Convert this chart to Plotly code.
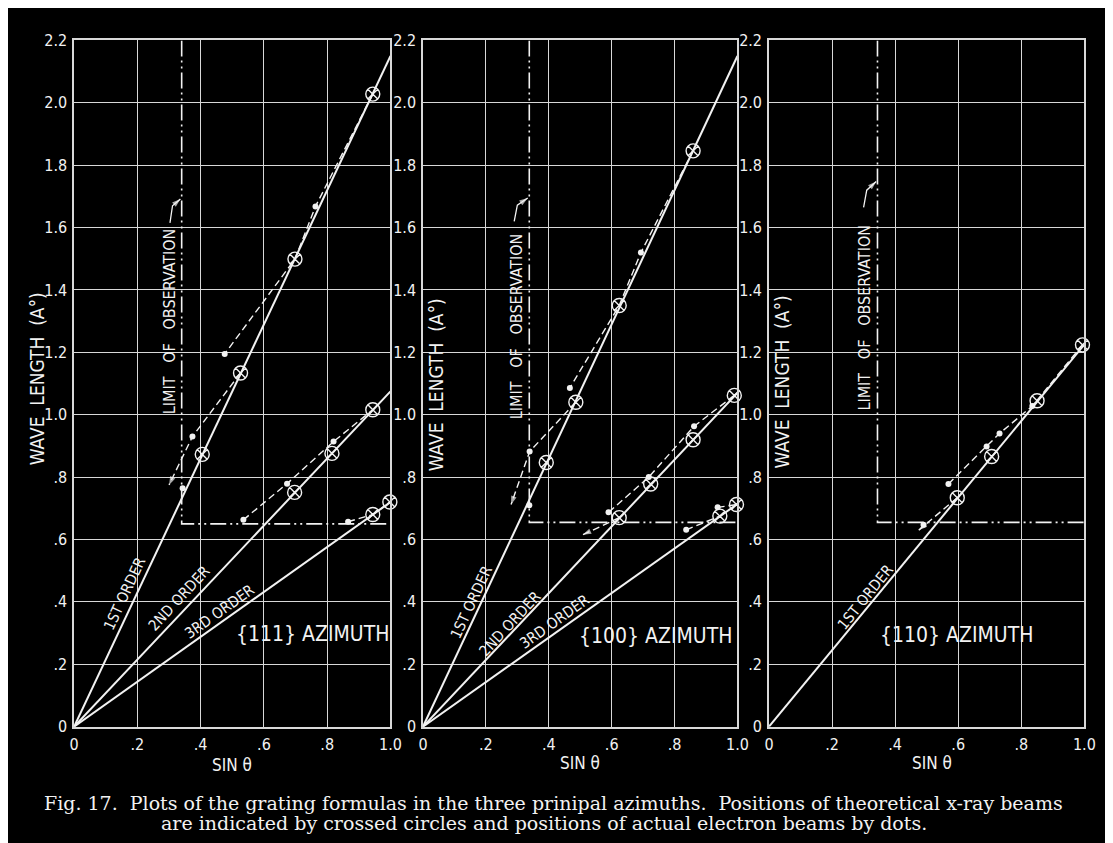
import plotly.graph_objects as go

W, H = 1113, 843
OFF = 8  # default page margin of the html body

# ---------------- tick labels ----------------
x_tickvals = [0, 0.2, 0.4, 0.6, 0.8, 1.0]
x_ticktext = ["0", ".2", ".4", ".6", ".8", "1.0"]
y_tickvals = [0, 0.2, 0.4, 0.6, 0.8, 1.0, 1.2, 1.4, 1.6, 1.8, 2.0, 2.2]
y_ticktext = ["0", ".2", ".4", ".6", ".8", "1.0", "1.2", "1.4", "1.6", "1.8", "2.0", "2.2"]

# ---------------- panel 1 : {111} azimuth ----------------
p1_order1_x = [0, 1.0]; p1_order1_y = [0, 2.15]
p1_order2_x = [0, 1.0]; p1_order2_y = [0, 1.075]
p1_order3_x = [0, 1.0]; p1_order3_y = [0, 0.72]
p1_circ_x = [0.944, 0.698, 0.526, 0.405, 0.944, 0.815, 0.697, 0.944, 0.998]
p1_circ_y = [2.028, 1.499, 1.134, 0.873, 1.016, 0.876, 0.751, 0.680, 0.720]
p1_dot_x = [0.763, 0.476, 0.374, 0.343, 0.820, 0.673, 0.535, 0.866]
p1_dot_y = [1.668, 1.195, 0.930, 0.764, 0.914, 0.779, 0.663, 0.657]
p1_dash_a_x = [0.944, 0.763, 0.698, 0.476]; p1_dash_a_y = [2.028, 1.668, 1.499, 1.195]
p1_dash_b_x = [0.526, 0.374, 0.300]; p1_dash_b_y = [1.134, 0.930, 0.775]
p1_dash_c_x = [0.535, 0.673, 0.820, 0.944]; p1_dash_c_y = [0.663, 0.779, 0.914, 1.016]
p1_dash_d_x = [0.866, 0.944, 0.998]; p1_dash_d_y = [0.657, 0.680, 0.720]
p1_limit_x = [0.340, 0.340, 1.0]; p1_limit_y = [2.2, 0.650, 0.650]
p1_limarrow_x = [0.303, 0.311, 0.336]; p1_limarrow_y = [1.615, 1.670, 1.692]

# ---------------- panel 2 : {100} azimuth ----------------
p2_order1_x = [0, 1.0]; p2_order1_y = [0, 2.15]
p2_order2_x = [0, 1.0]; p2_order2_y = [0, 1.07]
p2_order3_x = [0, 1.0]; p2_order3_y = [0, 0.714]
p2_circ_x = [0.859, 0.624, 0.486, 0.392, 0.990, 0.859, 0.724, 0.624, 0.997, 0.944]
p2_circ_y = [1.846, 1.350, 1.040, 0.847, 1.062, 0.920, 0.778, 0.670, 0.712, 0.675]
p2_dot_x = [0.693, 0.467, 0.339, 0.338, 0.862, 0.718, 0.590, 0.937, 0.837]
p2_dot_y = [1.520, 1.086, 0.882, 0.710, 0.963, 0.800, 0.687, 0.703, 0.631]
p2_dash_a_x = [0.859, 0.693, 0.624, 0.467]; p2_dash_a_y = [1.846, 1.520, 1.350, 1.086]
p2_dash_b_x = [0.486, 0.339, 0.280]; p2_dash_b_y = [1.040, 0.882, 0.712]
p2_dash_c_x = [0.990, 0.862, 0.718, 0.590]; p2_dash_c_y = [1.062, 0.963, 0.800, 0.687]
p2_dash_d_x = [0.624, 0.508]; p2_dash_d_y = [0.670, 0.615]
p2_dash_e_x = [0.837, 0.944]; p2_dash_e_y = [0.631, 0.675]
p2_dash_f_x = [0.937, 0.997]; p2_dash_f_y = [0.703, 0.712]
p2_limit_x = [0.338, 0.338, 1.0]; p2_limit_y = [2.2, 0.655, 0.655]
p2_limarrow_x = [0.290, 0.300, 0.333]; p2_limarrow_y = [1.620, 1.672, 1.695]

# ---------------- panel 3 : {110} azimuth ----------------
p3_order1_x = [0, 1.0]; p3_order1_y = [0, 1.225]
p3_circ_x = [0.994, 0.850, 0.706, 0.597]
p3_circ_y = [1.224, 1.045, 0.866, 0.734]
p3_dot_x = [0.569, 0.690, 0.731, 0.835, 0.490]
p3_dot_y = [0.778, 0.898, 0.940, 1.028, 0.647]
p3_dash_a_x = [0.569, 0.690, 0.731, 0.835, 0.994]; p3_dash_a_y = [0.778, 0.898, 0.940, 1.028, 1.224]
p3_dash_b_x = [0.597, 0.475]; p3_dash_b_y = [0.734, 0.630]
p3_limit_x = [0.344, 0.344, 1.0]; p3_limit_y = [2.2, 0.655, 0.655]
p3_limarrow_x = [0.300, 0.310, 0.340]; p3_limarrow_y = [1.665, 1.720, 1.748]

# ---------------- text ----------------
order_labels = ["1ST ORDER", "2ND ORDER", "3RD ORDER"]
azimuth_labels = ["{111} AZIMUTH", "{100} AZIMUTH", "{110} AZIMUTH"]
y_title = "WAVE  LENGTH  (A°)"
x_title = "SIN θ"
limit_label = "LIMIT   OF   OBSERVATION"
caption_1 = ("Fig. 17.  Plots of the grating formulas in the three prinipal azimuths.  "
             "Positions of theoretical x-ray beams")
caption_2 = "are indicated by crossed circles and positions of actual electron beams by dots."

# ---------------- style ----------------
LET = "DejaVu Sans Condensed, Liberation Sans Narrow, DejaVu Sans, sans-serif"
SERIF = "DejaVu Serif, Liberation Serif, serif"
WHITE = "#f2f2f2"
GRID = "#d8d8d8"


def xd(px):
    return (px - OFF) / W


def yd(px):
    return 1 - (px - OFF) / H


fig = go.Figure()

panel_x_px = [(70, 391), (424, 743), (775, 1095)]
y_px = (734, 32)

axes = [("x", "y"), ("x2", "y2"), ("x3", "y3")]


def add_line(ax, xs, ys, width=2.0, dash="solid", color=WHITE):
    fig.add_trace(go.Scatter(x=xs, y=ys, mode="lines", xaxis=ax[0], yaxis=ax[1],
                             line=dict(color=color, width=width, dash=dash),
                             hoverinfo="skip", showlegend=False, cliponaxis=False))


def add_arrowhead(ax, xs, ys):
    fig.add_trace(go.Scatter(x=xs[-2:], y=ys[-2:], mode="markers", xaxis=ax[0], yaxis=ax[1],
                             marker=dict(symbol="arrow", size=[0, 9], angleref="previous",
                                         color=WHITE, line=dict(width=0)),
                             hoverinfo="skip", showlegend=False, cliponaxis=False))


DASH = "7px,4px"
LIMDASH = "16px,4px,2px,4px,2px,4px"

# panel 1
a = axes[0]
for xs, ys in [(p1_order1_x, p1_order1_y), (p1_order2_x, p1_order2_y), (p1_order3_x, p1_order3_y)]:
    add_line(a, xs, ys, 2.0)
add_line(a, p1_limit_x, p1_limit_y, 1.6, LIMDASH)
for xs, ys in [(p1_dash_a_x, p1_dash_a_y), (p1_dash_b_x, p1_dash_b_y),
               (p1_dash_c_x, p1_dash_c_y), (p1_dash_d_x, p1_dash_d_y)]:
    add_line(a, xs, ys, 1.4, DASH)
add_arrowhead(a, p1_dash_b_x, p1_dash_b_y)
add_line(a, p1_limarrow_x, p1_limarrow_y, 1.3)
add_arrowhead(a, p1_limarrow_x, p1_limarrow_y)

# panel 2
a = axes[1]
for xs, ys in [(p2_order1_x, p2_order1_y), (p2_order2_x, p2_order2_y), (p2_order3_x, p2_order3_y)]:
    add_line(a, xs, ys, 2.0)
add_line(a, p2_limit_x, p2_limit_y, 1.6, LIMDASH)
for xs, ys in [(p2_dash_a_x, p2_dash_a_y), (p2_dash_b_x, p2_dash_b_y), (p2_dash_c_x, p2_dash_c_y),
               (p2_dash_d_x, p2_dash_d_y), (p2_dash_e_x, p2_dash_e_y), (p2_dash_f_x, p2_dash_f_y)]:
    add_line(a, xs, ys, 1.4, DASH)
add_arrowhead(a, p2_dash_b_x, p2_dash_b_y)
add_arrowhead(a, p2_dash_d_x, p2_dash_d_y)
add_line(a, p2_limarrow_x, p2_limarrow_y, 1.3)
add_arrowhead(a, p2_limarrow_x, p2_limarrow_y)

# panel 3
a = axes[2]
add_line(a, p3_order1_x, p3_order1_y, 2.0)
add_line(a, p3_limit_x, p3_limit_y, 1.6, LIMDASH)
for xs, ys in [(p3_dash_a_x, p3_dash_a_y), (p3_dash_b_x, p3_dash_b_y)]:
    add_line(a, xs, ys, 1.4, DASH)
add_arrowhead(a, p3_dash_b_x, p3_dash_b_y)
add_line(a, p3_limarrow_x, p3_limarrow_y, 1.3)
add_arrowhead(a, p3_limarrow_x, p3_limarrow_y)

# markers
for a, cx, cy, dx, dy in [(axes[0], p1_circ_x, p1_circ_y, p1_dot_x, p1_dot_y),
                          (axes[1], p2_circ_x, p2_circ_y, p2_dot_x, p2_dot_y),
                          (axes[2], p3_circ_x, p3_circ_y, p3_dot_x, p3_dot_y)]:
    fig.add_trace(go.Scatter(x=cx, y=cy, mode="markers", xaxis=a[0], yaxis=a[1],
                             marker=dict(symbol="circle-x-open", size=14, color=WHITE,
                                         line=dict(width=1.4, color=WHITE)),
                             hoverinfo="skip", showlegend=False, cliponaxis=False))
    fig.add_trace(go.Scatter(x=dx, y=dy, mode="markers", xaxis=a[0], yaxis=a[1],
                             marker=dict(symbol="circle", size=6, color=WHITE),
                             hoverinfo="skip", showlegend=False, cliponaxis=False))

# axes
common = dict(showgrid=True, gridcolor=GRID, gridwidth=1.3, showline=True, mirror=True,
              linecolor=GRID, linewidth=1.5, zeroline=False, ticks="",
              tickfont=dict(family=LET, size=16, color=WHITE), fixedrange=True)
layout = {}
for i, (px0, px1) in enumerate(panel_x_px):
    sx = "" if i == 0 else str(i + 1)
    layout["xaxis" + sx] = dict(common, domain=[xd(px0), xd(px1)], range=[0, 1.0],
                                tickvals=x_tickvals, ticktext=x_ticktext,
                                anchor="y" + sx, ticklabelstandoff=2)
    layout["yaxis" + sx] = dict(common, domain=[yd(y_px[0]), yd(y_px[1])], range=[0, 2.2],
                                tickvals=y_tickvals, ticktext=y_ticktext,
                                anchor="x" + sx, ticklabelstandoff=2)

C = dict(xanchor="center", yanchor="middle", showarrow=False)
ann = []
# order labels (data coords)
order_pos = [
    ("x", "y", 0.160, 0.425, -65, 0), ("x", "y", 0.333, 0.413, -47, 1), ("x", "y", 0.458, 0.369, -35.5, 2),
    ("x2", "y2", 0.154, 0.400, -65, 0), ("x2", "y2", 0.276, 0.330, -47, 1), ("x2", "y2", 0.417, 0.336, -35.5, 2),
    ("x3", "y3", 0.306, 0.417, -51, 0),
]
for xr, yr, x, y, ang, k in order_pos:
    ann.append(dict(C, xref=xr, yref=yr, x=x, y=y, text=order_labels[k], textangle=ang,
                    font=dict(family=LET, size=15, color=WHITE)))
az_pos = [("x", "y", 0.753, 0.297), ("x2", "y2", 0.740, 0.292), ("x3", "y3", 0.594, 0.295)]
for k, (xr, yr, x, y) in enumerate(az_pos):
    ann.append(dict(C, xref=xr, yref=yr, x=x, y=y, text=azimuth_labels[k],
                    font=dict(family=LET, size=21, color=WHITE)))
lim_pos = [("x", "y", 0.300, 1.300), ("x2", "y2", 0.296, 1.284), ("x3", "y3", 0.303, 1.310)]
for xr, yr, x, y in lim_pos:
    ann.append(dict(C, xref=xr, yref=yr, x=x, y=y, text=limit_label, textangle=-90,
                    font=dict(family=LET, size=16, color=WHITE)))
# axis titles (paper coords, pixel positions)
for sx, sy in [(32, 378), (437, 384), (788, 381)]:
    ann.append(dict(C, xref="paper", yref="paper", x=xd(sx), y=yd(sy), text=y_title, textangle=-90,
                    font=dict(family=LET, size=19, color=WHITE)))
for sx, sy in [(230, 773), (583, 771), (940, 771)]:
    ann.append(dict(C, xref="paper", yref="paper", x=xd(sx), y=yd(sy), text=x_title,
                    font=dict(family=LET, size=17, color=WHITE)))
ann.append(dict(C, xref="paper", yref="paper", x=xd(556), y=yd(812), text=caption_1,
                font=dict(family=SERIF, size=19, color=WHITE)))
ann.append(dict(C, xref="paper", yref="paper", x=xd(547), y=yd(833), text=caption_2,
                font=dict(family=SERIF, size=19, color=WHITE)))

fig.update_layout(width=W, height=H, margin=dict(l=0, r=0, t=0, b=0),
                  paper_bgcolor="black", plot_bgcolor="black",
                  showlegend=False, annotations=ann, **layout)

fig.write_html("out.html")
